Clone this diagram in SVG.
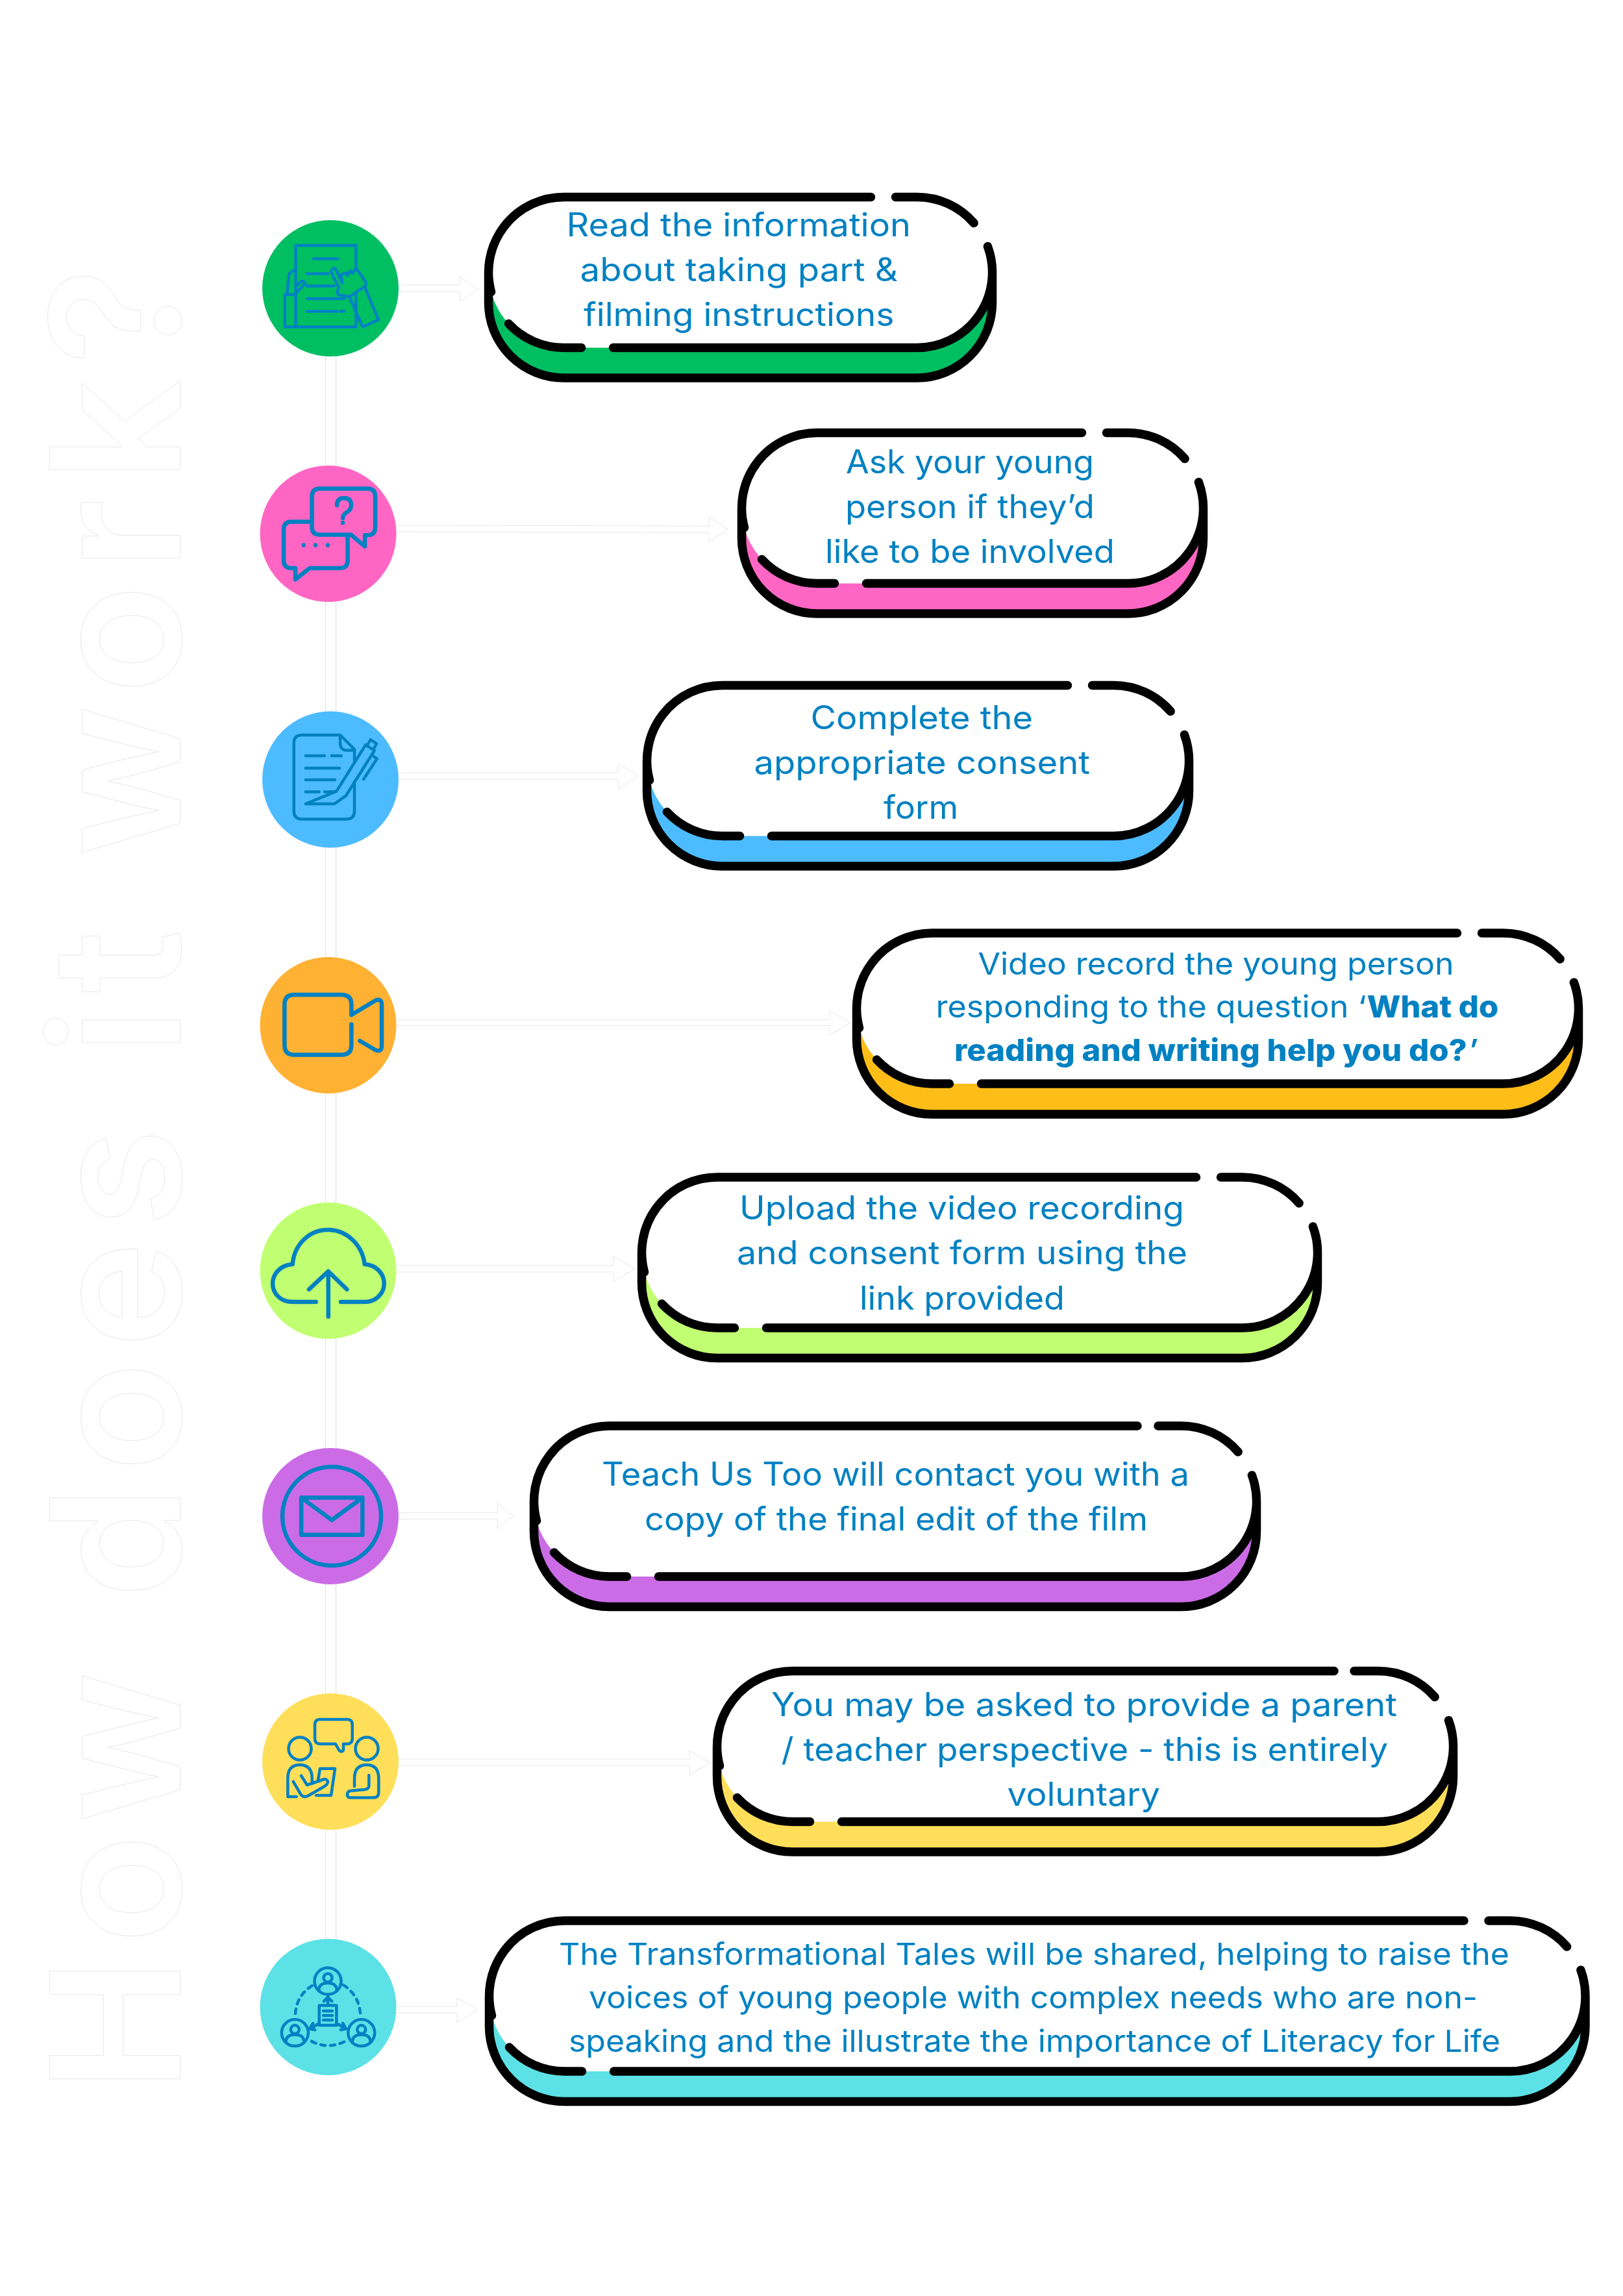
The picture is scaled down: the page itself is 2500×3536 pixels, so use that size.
<svg xmlns="http://www.w3.org/2000/svg" width="2500" height="3536" viewBox="0 0 2500 3536">
<style>
.k{fill:none;stroke:#000;stroke-width:13.5;stroke-linecap:round;stroke-linejoin:round}
.w{fill:#fff}
.c{fill:#fff;stroke:#e6e6e6;stroke-width:1}
.v{fill:#fff;stroke:#dcdcdc;stroke-width:1}
.i{fill:none;stroke:#0081C2;stroke-width:4.5;stroke-linecap:round;stroke-linejoin:round}
.i6{stroke-width:6.5}
.t{font-family:"Inter","Noto Sans","Liberation Sans",sans-serif;font-size:50px;fill:#0081C2;font-weight:400}
.b{font-weight:800}
.h{font-family:"Inter","Liberation Sans",sans-serif;font-size:277px;font-weight:600;fill:#fff;stroke:#e6e6e6;stroke-width:1}
</style>
<rect width="2500" height="3536" fill="#fff"/>
<text class="h" transform="translate(277.7,3222) rotate(-90)" textLength="2810" lengthAdjust="spacing">How does it work?</text>
<g id="connectors">
<rect class="v" x="501.5" y="500" width="16" height="2560"/>
<polygon class="c" points="612,439 708,439 708,426 737,445.5 708,465 708,449 612,449"/>
<polygon class="c" points="608,809 1092,810 1092,796.5 1121,815 1092,835 1092,820 608,819"/>
<polygon class="c" points="610,1190 952,1190 952,1176 983,1195 952,1215 952,1200 610,1200"/>
<polygon class="c" points="608,1570.5 1278,1570.5 1278,1556.5 1310,1575 1278,1594 1278,1579.5 608,1579.5"/>
<polygon class="c" points="606,1949 945,1949 945,1935 978,1954 945,1974 945,1959 606,1959"/>
<polygon class="c" points="610,2329.5 766,2329.5 766,2315 791,2334.5 766,2354 766,2339.5 610,2339.5"/>
<polygon class="c" points="610,2709 1062,2709 1062,2696 1094,2715 1062,2734 1062,2719 610,2719"/>
<polygon class="c" points="608,3090 704,3090 704,3077 735,3095.5 704,3115 704,3100 608,3100"/>
</g>

<g id="icon1"><circle cx="509" cy="444" r="105" fill="#00BF63"/>
<path class="i" d="M455.5,378H548.4V503.5H455.5ZM483,398.6H520M473,421.4H478M482,421.4H505M473,440.6H515M473,460H478M482,460H530.5M473,479.4H520M525,479.4H530.5M455.5,453.7H438.7V503.5H455.5M442,453.7L445,423Q447,419 455.5,415M455.5,441.4L464,433Q469,433 470,437L455.5,451.6"/>
<path class="i" style="fill:#00BF63" d="M510,419Q512,411 517,414L527,436L525.4,423L533,420L535,424L540,417L543,421L548.4,413L563.7,435Q564,439 562.6,440.6L538,457L522,454Q517,451 522,443.5Z"/>
<path class="i" d="M538,457L558.6,503.5L583,492.4L561.6,441.4"/></g>

<g id="icon2"><circle cx="505.5" cy="822" r="105" fill="#FF66C4"/>
<path class="i i6" d="M480.5,764.4Q480.5,752.4 492.5,752.4H566Q578,752.4 578,764.4V812.3Q578,824.3 566,824.3H562V841.4L540.7,823.5H492.5Q480.5,823.5 480.5,812.3Z"/>
<path class="i i6" d="M479.5,803.5H449Q437,803.5 437,815.5V863Q437,875 449,875H455V892.4L477,875H523.6Q535.6,875 535.6,863V824.3"/>
<path class="i i6" d="M519,778Q519,767 530,767Q541,767 541,778Q541,785 534,789Q528,793 528,798M528,805V805.1M467.8,839.4V839.5M486,839.4V839.5M505,839.4V839.5"/></g>

<g id="icon3"><circle cx="509" cy="1200.6" r="105" fill="#4DBBFF"/>
<path class="i" d="M546,1174V1154L524,1132H465Q452.7,1132 452.7,1144V1249Q452.7,1261.4 465,1261.4H534Q546,1261.4 546,1249V1204M524,1132V1143.6Q524,1155 533,1155.4H546M470.7,1164H500M510.7,1164H525.7M470.7,1183H523M470.7,1201H516M470.7,1219.6H491.7M500,1219.6H516.7M470.7,1238H515L532.7,1225.7L576.7,1156L563.3,1147L518.3,1218.6ZM565,1149L570.7,1139L580,1145.4L575,1154M573,1163L580.7,1168.6L560,1200"/></g>

<g id="icon4"><circle cx="505.5" cy="1579" r="105" fill="#FFB133"/>
<path class="i i6" d="M541.3,1563V1547Q541.3,1532 526,1532H453Q438.3,1532 438.3,1547V1609.6Q438.3,1624.6 453,1624.6H526Q541.3,1624.6 541.3,1609.6V1577.5M541.3,1563L578,1541Q588,1537 588,1547V1611Q588,1621 578,1617L554.3,1603"/></g>

<g id="icon5"><circle cx="505.5" cy="1957" r="105" fill="#C1FF72"/>
<path class="i i6" d="M486.7,2005H450.7C432,2005 420,1992 420,1976.7C420,1961 433,1948 450.7,1947C453,1917 476,1894 505,1894C534,1894 558,1917 561.7,1947C579,1948 591.7,1961 591.7,1976.7C591.7,1992 579,2005 561.7,2005H525M505.7,2027.8V1958M476,1985.7L505.7,1958L534.3,1985.7"/></g>

<g id="icon6"><circle cx="509" cy="2335" r="105" fill="#CB6CE6"/>
<circle class="i i6" cx="511" cy="2335" r="76"/>
<path class="i i6" d="M464,2306.5H558.3V2363.7H464ZM464,2306.5L511,2341L558.3,2306.5"/></g>

<g id="icon7"><circle cx="509" cy="2713" r="105" fill="#FFDE59"/>
<path class="i" d="M493,2648H534.7Q542.7,2648 542.7,2656V2677.7Q542.7,2685.7 534.7,2685.7H529V2695Q526,2700 522,2695L516.7,2685.7H493Q485,2685.7 485,2677.7V2656Q485,2648 493,2648Z"/>
<circle class="i" cx="462" cy="2693" r="17.5"/><circle class="i" cx="565" cy="2693" r="17.5"/>
<path class="i" d="M456.7,2767H443.3V2739Q443.3,2718 461.7,2718Q480.7,2718 480.7,2739V2747M490,2741L493,2723.7H516L510,2765H487M451.7,2743.7L463,2763Q467,2769 474,2766L500,2751Q508,2745 503,2741Q500,2739 496.7,2741L473,2749L464,2734.7M546,2751V2739Q546,2718 565,2718Q583.3,2718 583.3,2739V2761Q583.3,2768.6 575,2768.6H540Q534,2768 535,2763Q536,2758 540,2758L562,2756Q568.3,2755 568.3,2750V2734"/></g>

<g id="icon8"><circle cx="505.5" cy="3091" r="105" fill="#5CE1E6"/>
<g class="i"><circle cx="505" cy="3051" r="20.5"/><circle cx="505" cy="3046" r="6.5"/><path d="M491,3066Q491,3054 505,3054Q519,3054 519,3066"/>
<circle cx="454.3" cy="3130.6" r="20.5"/><circle cx="454.3" cy="3125.6" r="6.5"/><path d="M440.3,3145.6Q440.3,3133.6 454.3,3133.6Q468.3,3133.6 468.3,3145.6"/>
<circle cx="556.7" cy="3130.6" r="20.5"/><circle cx="556.7" cy="3125.6" r="6.5"/><path d="M542.7,3145.6Q542.7,3133.6 556.7,3133.6Q570.7,3133.6 570.7,3145.6"/>
<path stroke-dasharray="7 8" d="M455,3101Q457,3073 481,3058M529,3057Q553,3073 555,3101M480,3143.7Q505,3157 531.7,3143.7"/>
<path d="M491.7,3088.6H518.3V3119H491.7ZM498,3097H512M498,3104H512M498,3111H512M505,3088.6V3077M499,3082L505,3075.5L511,3082M491.7,3116L478,3124.5M482,3116L477,3124.5L485,3126M518.3,3116L532.7,3124.5M528,3116L533,3124.5L525,3126"/></g></g>

<g id="pill1"><path fill="#00BF63" d="M752.5,419.5V466A116 116 0 0 0 868.5,582H1412.5A116 116 0 0 0 1528.5,466V419.5Z"/>
<rect class="w" x="752.5" y="303.5" width="776" height="232" rx="116"/>
<path class="k" d="M752.5,419.5V466A116 116 0 0 0 868.5,582H1412.5A116 116 0 0 0 1528.5,466V419.5M756.5,449.5A116 116 0 0 1 868.5,303.5H1341.5M1379.5,303.5H1412.5A116 116 0 0 1 1500.1,343.5M1521.4,379.5A116 116 0 0 1 1412.5,535.5H944.5M895.5,535.5H868.5A116 116 0 0 1 783.5,498.5"/>
<text class="t"><tspan x="872.5" y="364" textLength="530.5" lengthAdjust="spacingAndGlyphs">Read the information</tspan><tspan x="893.5" y="433" textLength="489.5" lengthAdjust="spacingAndGlyphs">about taking part &amp;</tspan><tspan x="899" y="502" textLength="478.5" lengthAdjust="spacingAndGlyphs">filming instructions</tspan></text></g>

<g id="pill2"><path fill="#FF66C4" d="M1142.5,782.5V829A116 116 0 0 0 1258.5,945H1737.5A116 116 0 0 0 1853.5,829V782.5Z"/>
<rect class="w" x="1142.5" y="666.5" width="711" height="232" rx="116"/>
<path class="k" d="M1142.5,782.5V829A116 116 0 0 0 1258.5,945H1737.5A116 116 0 0 0 1853.5,829V782.5M1146.5,812.5A116 116 0 0 1 1258.5,666.5H1666.5M1704.5,666.5H1737.5A116 116 0 0 1 1825.1,706.5M1846.4,742.5A116 116 0 0 1 1737.5,898.5H1334.5M1285.5,898.5H1258.5A116 116 0 0 1 1173.5,861.5"/>
<text class="t"><tspan x="1303" y="728.5" textLength="382" lengthAdjust="spacingAndGlyphs">Ask your young</tspan><tspan x="1302" y="798" textLength="384" lengthAdjust="spacingAndGlyphs">person if they’d</tspan><tspan x="1271" y="867" textLength="446" lengthAdjust="spacingAndGlyphs">like to be involved</tspan></text></g>

<g id="pill3"><path fill="#4DBBFF" d="M996.5,1171.5V1218A116 116 0 0 0 1112.5,1334H1715.5A116 116 0 0 0 1831.5,1218V1171.5Z"/>
<rect class="w" x="996.5" y="1055.5" width="835" height="232" rx="116"/>
<path class="k" d="M996.5,1171.5V1218A116 116 0 0 0 1112.5,1334H1715.5A116 116 0 0 0 1831.5,1218V1171.5M1000.5,1201.5A116 116 0 0 1 1112.5,1055.5H1644.5M1682.5,1055.5H1715.5A116 116 0 0 1 1803.1,1095.5M1824.4,1131.5A116 116 0 0 1 1715.5,1287.5H1188.5M1139.5,1287.5H1112.5A116 116 0 0 1 1027.5,1250.5"/>
<text class="t"><tspan x="1248.5" y="1122.5" textLength="342.5" lengthAdjust="spacingAndGlyphs">Complete the</tspan><tspan x="1161.5" y="1191.5" textLength="517.5" lengthAdjust="spacingAndGlyphs">appropriate consent</tspan><tspan x="1361" y="1260.5" textLength="115" lengthAdjust="spacingAndGlyphs">form</tspan></text></g>

<g id="pill4"><path fill="#FFBD17" d="M1319.5,1553V1600A116 116 0 0 0 1435.5,1716H2315.5A116 116 0 0 0 2431.5,1600V1553Z"/>
<rect class="w" x="1319.5" y="1437" width="1112" height="232" rx="116"/>
<path class="k" d="M1319.5,1553V1600A116 116 0 0 0 1435.5,1716H2315.5A116 116 0 0 0 2431.5,1600V1553M1323.5,1583A116 116 0 0 1 1435.5,1437H2244.5M2282.5,1437H2315.5A116 116 0 0 1 2403.1,1477M2424.4,1513A116 116 0 0 1 2315.5,1669H1511.5M1462.5,1669H1435.5A116 116 0 0 1 1350.5,1632"/>
<text class="t" style="font-size:47px"><tspan x="1506.5" y="1501" textLength="733" lengthAdjust="spacingAndGlyphs">Video record the young person</tspan><tspan x="1441.5" y="1567" textLength="663" lengthAdjust="spacingAndGlyphs">responding to the question ‘</tspan><tspan class="b" x="2105.5" y="1567" textLength="202.5" lengthAdjust="spacingAndGlyphs">What do</tspan><tspan class="b" x="1470" y="1633.5" textLength="790" lengthAdjust="spacingAndGlyphs">reading and writing help you do?</tspan><tspan x="2262" y="1633.5" textLength="16" lengthAdjust="spacingAndGlyphs">’</tspan></text></g>

<g id="pill5"><path fill="#C1FF72" d="M988.5,1929V1975.5A116 116 0 0 0 1104.5,2091.5H1913.5A116 116 0 0 0 2029.5,1975.5V1929Z"/>
<rect class="w" x="988.5" y="1813" width="1041" height="232" rx="116"/>
<path class="k" d="M988.5,1929V1975.5A116 116 0 0 0 1104.5,2091.5H1913.5A116 116 0 0 0 2029.5,1975.5V1929M992.5,1959A116 116 0 0 1 1104.5,1813H1842.5M1880.5,1813H1913.5A116 116 0 0 1 2001.1,1853M2022.4,1889A116 116 0 0 1 1913.5,2045H1180.5M1131.5,2045H1104.5A116 116 0 0 1 1019.5,2008"/>
<text class="t"><tspan x="1139" y="1878" textLength="685" lengthAdjust="spacingAndGlyphs">Upload the video recording</tspan><tspan x="1135" y="1947" textLength="694" lengthAdjust="spacingAndGlyphs">and consent form using the</tspan><tspan x="1324" y="2016.5" textLength="316" lengthAdjust="spacingAndGlyphs">link provided</tspan></text></g>

<g id="pill6"><path fill="#CB6CE6" d="M822.5,2312V2358.5A116 116 0 0 0 938.5,2474.5H1819.5A116 116 0 0 0 1935.5,2358.5V2312Z"/>
<rect class="w" x="822.5" y="2196" width="1113" height="232" rx="116"/>
<path class="k" d="M822.5,2312V2358.5A116 116 0 0 0 938.5,2474.5H1819.5A116 116 0 0 0 1935.5,2358.5V2312M826.5,2342A116 116 0 0 1 938.5,2196H1752M1784,2196H1819.5A116 116 0 0 1 1907.1,2236M1928.4,2272A116 116 0 0 1 1819.5,2428H1014.5M965.5,2428H938.5A116 116 0 0 1 853.5,2391"/>
<text class="t"><tspan x="927" y="2288" textLength="905" lengthAdjust="spacingAndGlyphs">Teach Us Too will contact you with a</tspan><tspan x="993" y="2357" textLength="775" lengthAdjust="spacingAndGlyphs">copy of the final edit of the film</tspan></text></g>

<g id="pill7"><path fill="#FFDE59" d="M1104.5,2689.5V2736A116 116 0 0 0 1220.5,2852H2122.5A116 116 0 0 0 2238.5,2736V2689.5Z"/>
<rect class="w" x="1104.5" y="2573.5" width="1134" height="232" rx="116"/>
<path class="k" d="M1104.5,2689.5V2736A116 116 0 0 0 1220.5,2852H2122.5A116 116 0 0 0 2238.5,2736V2689.5M1108.5,2719.5A116 116 0 0 1 1220.5,2573.5H2055M2086,2573.5H2122.5A116 116 0 0 1 2210.1,2613.5M2231.4,2649.5A116 116 0 0 1 2122.5,2805.5H1296.5M1247.5,2805.5H1220.5A116 116 0 0 1 1135.5,2768.5"/>
<text class="t"><tspan x="1188" y="2642.5" textLength="964" lengthAdjust="spacingAndGlyphs">You may be asked to provide a parent</tspan><tspan x="1203.5" y="2711.5" textLength="934.5" lengthAdjust="spacingAndGlyphs">/ teacher perspective - this is entirely</tspan><tspan x="1551.5" y="2780.5" textLength="235.5" lengthAdjust="spacingAndGlyphs">voluntary</tspan></text></g>

<g id="pill8"><path fill="#5CE1E6" d="M753.5,3074V3120.5A116 116 0 0 0 869.5,3236.5H2326A116 116 0 0 0 2442,3120.5V3074Z"/>
<rect class="w" x="753.5" y="2958" width="1688.5" height="232" rx="116"/>
<path class="k" d="M753.5,3074V3120.5A116 116 0 0 0 869.5,3236.5H2326A116 116 0 0 0 2442,3120.5V3074M757.5,3104A116 116 0 0 1 869.5,2958H2255M2293,2958H2326A116 116 0 0 1 2413.6,2998M2434.9,3034A116 116 0 0 1 2326,3190H945.5M896.5,3190H869.5A116 116 0 0 1 784.5,3153"/>
<text class="t" style="font-size:47px"><tspan x="861" y="3026" textLength="1464" lengthAdjust="spacingAndGlyphs">The Transformational Tales will be shared, helping to raise the</tspan><tspan x="907" y="3093" textLength="1369" lengthAdjust="spacingAndGlyphs">voices of young people with complex needs who are non-</tspan><tspan x="876" y="3159.5" textLength="1435" lengthAdjust="spacingAndGlyphs">speaking and the illustrate the importance of Literacy for Life</tspan></text></g>
</svg>
